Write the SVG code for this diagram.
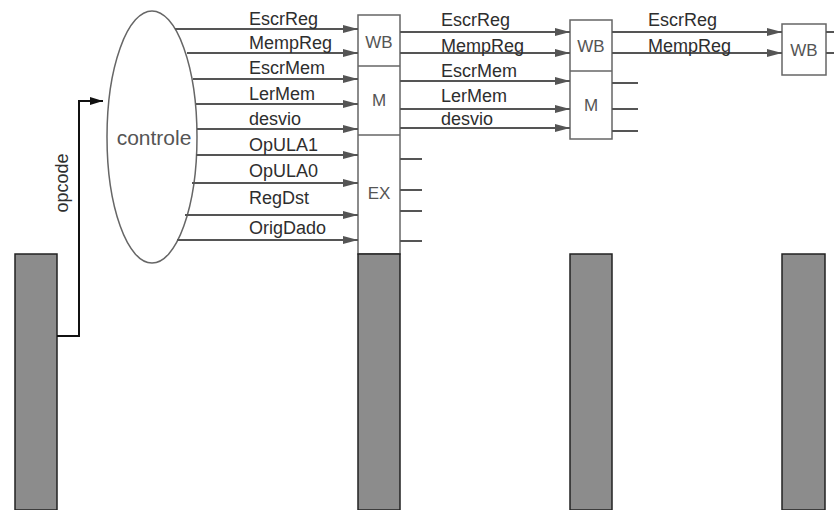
<svg xmlns="http://www.w3.org/2000/svg" width="834" height="510" viewBox="0 0 834 510">
<defs>
<marker id="ag" markerUnits="userSpaceOnUse" markerWidth="16" markerHeight="10" refX="15" refY="4" orient="auto">
<path d="M0,0 L15,4 L0,8 z" fill="#555"/>
</marker>
<marker id="ab" markerUnits="userSpaceOnUse" markerWidth="14" markerHeight="10" refX="13" refY="4" orient="auto">
<path d="M0,0 L13,4 L0,8 z" fill="#111"/>
</marker>
<style>
.lbl{font-family:"Liberation Sans",Arial,sans-serif;font-size:18px;fill:#2e2e2e}
.box{fill:#fff;stroke:#666;stroke-width:1.5}
.bt{font-family:"Liberation Sans",Arial,sans-serif;font-size:17px;fill:#555;text-anchor:middle}
.bar{fill:#8c8c8c;stroke:#222;stroke-width:1.5}
.sig{stroke:#555;stroke-width:2;fill:none}
.arr{stroke:#555;stroke-width:2;fill:none;marker-end:url(#ag)}
</style>
</defs>
<rect width="834" height="510" fill="#fff"/>

<g id="controle">
<ellipse cx="152" cy="137" rx="45" ry="126" fill="#fff" stroke="#666" stroke-width="1.5"/>
<text x="154" y="145" font-family="Liberation Sans, Arial, sans-serif" font-size="21" fill="#555" text-anchor="middle">controle</text>
</g>

<g id="reg0">
<rect class="bar" x="15" y="254" width="42" height="256"/>
</g>

<g id="reg1">
<rect class="box" x="358" y="15" width="42" height="239"/>
<line x1="358" y1="66" x2="400" y2="66" stroke="#666" stroke-width="1.5"/>
<line x1="358" y1="135" x2="400" y2="135" stroke="#666" stroke-width="1.5"/>
<text class="bt" x="379" y="48">WB</text>
<text class="bt" x="379" y="106">M</text>
<text class="bt" x="379" y="199">EX</text>
<rect class="bar" x="358" y="254" width="42" height="256"/>
</g>

<g id="reg2">
<rect class="box" x="570" y="20" width="42" height="119"/>
<line x1="570" y1="71" x2="612" y2="71" stroke="#666" stroke-width="1.5"/>
<text class="bt" x="591" y="52">WB</text>
<text class="bt" x="591" y="111">M</text>
<rect class="bar" x="570" y="254" width="42" height="256"/>
</g>

<g id="reg3">
<rect class="box" x="782" y="24" width="44" height="51"/>
<text class="bt" x="804" y="56">WB</text>
<rect class="bar" x="782" y="254" width="43" height="256"/>
</g>

<g id="connectors">
<line class="arr" x1="175" y1="29" x2="358" y2="29"/>
<line class="arr" x1="187" y1="53" x2="358" y2="53"/>
<line class="arr" x1="193" y1="79" x2="358" y2="79"/>
<line class="arr" x1="196" y1="104" x2="358" y2="104"/>
<line class="arr" x1="197" y1="129" x2="358" y2="129"/>
<line class="arr" x1="196" y1="155" x2="358" y2="155"/>
<line class="arr" x1="192" y1="183" x2="358" y2="183"/>
<line class="arr" x1="185" y1="215" x2="358" y2="215"/>
<line class="arr" x1="177" y1="240" x2="358" y2="240"/>
<line class="arr" x1="400" y1="32" x2="570" y2="32"/>
<line class="arr" x1="400" y1="53" x2="570" y2="53"/>
<line class="arr" x1="400" y1="81" x2="570" y2="81"/>
<line class="arr" x1="400" y1="109" x2="570" y2="109"/>
<line class="arr" x1="400" y1="128" x2="570" y2="128"/>
<line class="sig" x1="400" y1="159" x2="422" y2="159"/>
<line class="sig" x1="400" y1="190" x2="422" y2="190"/>
<line class="sig" x1="400" y1="211" x2="422" y2="211"/>
<line class="sig" x1="400" y1="241" x2="422" y2="241"/>
<line class="sig" x1="612" y1="83" x2="638" y2="83"/>
<line class="sig" x1="612" y1="109" x2="638" y2="109"/>
<line class="sig" x1="612" y1="131" x2="638" y2="131"/>
<line class="arr" x1="612" y1="32" x2="782" y2="32"/>
<line class="arr" x1="612" y1="53" x2="782" y2="53"/>
<line class="sig" x1="826" y1="32" x2="834" y2="32"/>
<line class="sig" x1="826" y1="53" x2="834" y2="53"/>
<polyline points="57,336 79,336 79,101 103,101" fill="none" stroke="#111" stroke-width="2" marker-end="url(#ab)"/>
</g>

<g id="labels">
<text class="lbl" x="249" y="25">EscrReg</text>
<text class="lbl" x="249" y="49">MempReg</text>
<text class="lbl" x="249" y="74">EscrMem</text>
<text class="lbl" x="249" y="100">LerMem</text>
<text class="lbl" x="249" y="125">desvio</text>
<text class="lbl" x="249" y="151">OpULA1</text>
<text class="lbl" x="249" y="177">OpULA0</text>
<text class="lbl" x="249" y="204">RegDst</text>
<text class="lbl" x="249" y="234">OrigDado</text>
<text class="lbl" x="441" y="26">EscrReg</text>
<text class="lbl" x="441" y="52">MempReg</text>
<text class="lbl" x="441" y="77">EscrMem</text>
<text class="lbl" x="441" y="102">LerMem</text>
<text class="lbl" x="441" y="125">desvio</text>
<text class="lbl" x="648" y="26">EscrReg</text>
<text class="lbl" x="648" y="52">MempReg</text>
<text class="lbl" transform="translate(68,183) rotate(-90)" text-anchor="middle" font-size="17">opcode</text>
</g>
</svg>
